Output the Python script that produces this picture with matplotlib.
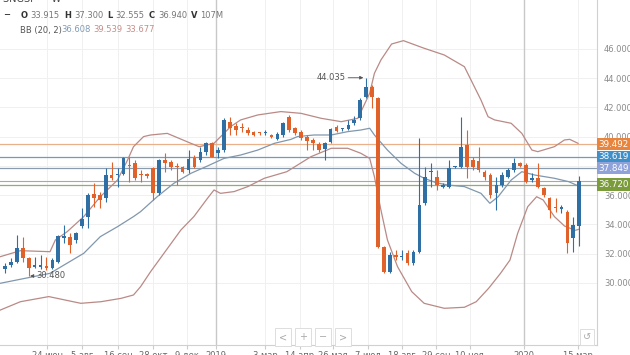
import numpy as np
import matplotlib
matplotlib.use("Agg")
import matplotlib.pyplot as plt
import matplotlib.transforms as mtransforms

# weekly candles, SNGSP
opens = [30.93, 31.23, 31.46, 32.37, 31.69, 31.07, 31.07, 31.19, 31.00, 31.46,
         33.05, 33.12, 32.94, 33.90, 34.49, 36.09, 36.02, 35.79, 37.38, 37.38,
         37.45, 38.02, 38.18, 37.40, 37.45, 37.84, 36.13, 38.41, 38.30, 37.97,
         37.95, 37.73, 38.52, 38.41, 38.98, 39.55, 38.87, 39.09, 41.03, 40.74,
         40.60, 40.46, 40.35, 40.25, 40.23, 40.12, 39.85, 40.12, 41.33, 40.58,
         40.35, 40.01, 39.78, 39.50, 39.14, 39.66, 40.64, 40.50, 40.51, 40.92,
         41.26, 42.74, 43.42, 42.63, 32.48, 30.78, 31.91, 31.78, 32.03, 31.34,
         32.14, 35.45, 37.60, 37.27, 36.59, 36.59, 37.93, 37.95, 39.44, 38.41,
         38.36, 37.61, 37.38, 36.13, 36.70, 37.27, 37.73, 38.18, 38.07, 37.04,
         37.16, 36.47, 35.79, 35.12, 35.04, 34.88, 33.05, 33.915]
highs = [31.34, 31.69, 33.28, 33.17, 31.80, 31.80, 31.91, 31.80, 31.69, 33.28,
         33.97, 33.40, 33.51, 35.11, 36.13, 36.81, 36.25, 37.84, 38.30, 37.84,
         38.64, 38.64, 38.41, 37.73, 37.50, 37.95, 38.45, 38.87, 38.41, 38.18,
         38.00, 39.09, 38.75, 39.32, 39.66, 39.66, 39.32, 41.26, 41.37, 40.92,
         40.92, 40.69, 40.40, 40.30, 40.46, 40.20, 40.30, 41.03, 41.49, 40.69,
         40.46, 40.12, 39.89, 39.66, 39.66, 40.58, 40.80, 40.60, 41.15, 41.42,
         42.63, 44.035, 43.54, 42.70, 32.50, 32.14, 32.26, 32.26, 32.26, 32.26,
         39.89, 37.95, 38.18, 37.73, 36.81, 38.41, 38.00, 41.37, 40.46, 38.64,
         39.32, 37.73, 37.50, 37.27, 37.61, 37.84, 38.52, 38.30, 38.18, 37.50,
         38.18, 36.59, 35.90, 35.79, 35.33, 34.99, 34.54, 37.30]
lows = [30.66, 31.12, 31.34, 31.46, 30.48, 31.00, 30.93, 30.89, 30.93, 31.39,
        32.71, 32.03, 32.71, 33.74, 33.74, 35.22, 35.11, 35.56, 37.04, 36.59,
        37.38, 36.93, 37.04, 36.93, 37.20, 35.68, 36.02, 37.61, 37.73, 36.70,
        37.50, 37.50, 37.84, 38.30, 38.75, 38.59, 38.52, 38.98, 40.12, 40.12,
        40.35, 40.12, 40.05, 40.15, 40.12, 39.90, 39.80, 40.01, 40.35, 40.12,
        39.78, 39.09, 39.09, 38.98, 38.41, 39.55, 40.35, 40.40, 40.46, 40.80,
        41.15, 42.63, 41.94, 32.40, 30.66, 30.66, 31.57, 31.57, 31.23, 31.23,
        32.03, 35.33, 36.59, 36.36, 36.47, 36.47, 37.85, 37.84, 37.16, 37.73,
        37.61, 37.04, 35.79, 34.99, 36.59, 37.20, 37.61, 37.95, 36.81, 36.93,
        36.47, 35.90, 34.42, 34.88, 34.76, 32.03, 32.14, 32.555]
closes = [31.16, 31.46, 32.37, 31.69, 31.00, 31.23, 31.23, 31.00, 31.57, 33.21,
          33.21, 32.60, 33.40, 34.35, 36.02, 35.79, 35.68, 37.38, 37.16, 37.40,
          38.52, 38.00, 37.16, 37.38, 37.32, 36.13, 38.41, 38.23, 37.95, 37.95,
          37.61, 38.46, 37.95, 38.98, 39.55, 38.64, 39.09, 41.15, 40.58, 40.46,
          40.58, 40.23, 40.12, 40.23, 40.25, 39.96, 40.19, 40.96, 40.46, 40.23,
          39.89, 39.73, 39.60, 39.09, 39.60, 40.51, 40.42, 40.52, 40.80, 41.15,
          42.51, 43.42, 42.70, 32.48, 30.78, 31.91, 31.75, 31.80, 31.34, 32.14,
          35.33, 37.23, 37.62, 36.70, 36.70, 37.84, 37.95, 39.32, 37.95, 37.95,
          37.73, 37.27, 36.02, 36.70, 37.38, 37.73, 38.18, 38.00, 36.93, 37.16,
          36.59, 36.02, 34.99, 35.10, 35.22, 32.71, 33.97, 36.94]

# Bollinger bands (bar index, price)
bb_up_x = [-0.8, 2.6, 7.6, 8.5, 10.5, 13.3, 16.1, 19.0, 20.7, 21.7, 23.4, 24.6, 27.4,
           31.4, 32.8, 35.3, 38.1, 39.8, 42.7, 46.6, 50.0, 53.4, 56.8, 59.6, 61.6,
           62.4, 63.5, 65.3, 67.3, 70.8, 74.2, 77.6, 80.4, 81.6, 82.7, 85.5, 87.3,
           89.0, 90.0, 92.8, 94.5, 95.4, 96.8]
bb_up = [31.80, 32.21, 32.14, 32.94, 33.51, 34.54, 35.90, 37.04, 38.41, 39.32, 40.01,
         40.12, 40.23, 39.55, 39.32, 39.55, 40.69, 41.15, 41.49, 41.72, 41.60, 41.26,
         41.03, 41.26, 42.97, 44.34, 45.25, 46.34, 46.57, 46.05, 45.59, 44.79, 42.51,
         41.37, 41.15, 40.92, 40.23, 39.09, 38.98, 39.32, 39.78, 39.82, 39.55]
bb_mid_x = [-0.8, 7.6, 13.3, 16.1, 19.0, 21.7, 22.9, 25.7, 28.5, 31.4, 34.2, 37.0,
            39.8, 42.7, 45.5, 48.3, 49.4, 52.2, 55.1, 57.9, 60.1, 61.6, 62.4, 64.6,
            66.9, 69.2, 70.8, 72.8, 74.8, 77.6, 80.4, 81.9, 83.3, 85.5, 87.3, 89.5,
            92.8, 95.2, 97.0]
bb_mid = [29.98, 30.66, 32.03, 33.17, 33.85, 34.54, 34.88, 35.90, 36.81, 37.50, 38.00,
          38.52, 38.75, 39.09, 39.55, 39.82, 40.01, 40.12, 40.12, 40.35, 40.46, 40.58,
          40.12, 39.09, 38.18, 37.50, 37.16, 36.86, 36.70, 36.59, 36.13, 35.45, 35.90,
          37.04, 37.61, 37.38, 37.16, 36.93, 36.61]
bb_lo_x = [-0.8, 2.6, 7.4, 12.8, 16.2, 19.6, 21.7, 22.9, 24.6, 29.7, 31.9, 34.2, 35.3,
           36.4, 38.7, 41.0, 43.8, 47.6, 51.7, 55.1, 57.9, 60.1, 61.6, 62.4, 63.5,
           64.6, 66.3, 68.7, 70.8, 74.2, 77.6, 79.6, 81.7, 83.7, 85.3, 86.6, 88.3,
           89.8, 90.9, 92.8, 94.5, 96.3, 97.0]
bb_lo = [28.15, 28.72, 29.07, 28.61, 28.72, 28.95, 29.18, 29.75, 30.78, 33.62, 34.54,
         35.79, 36.36, 36.13, 36.25, 36.59, 37.16, 37.61, 38.64, 39.21, 39.21, 38.87,
         38.52, 37.27, 34.99, 32.94, 31.12, 29.41, 28.61, 28.27, 28.34, 28.72, 29.64,
         30.66, 31.57, 33.40, 35.22, 35.90, 35.68, 34.54, 33.90, 33.60, 33.68]

levels = [39.492, 38.619, 37.849, 36.720]
level_colors = ["#e8843c", "#3f8fc9", "#8fa3da", "#7b9c3a"]
level_line_colors = ["#eab089", "#6f9cbd", "#8a9cb0", "#93ab77"]
last_price = 36.94

yticks = [30, 32, 34, 36, 38, 40, 42, 44, 46]
xtick_pos = [7.1, 13.0, 19.1, 25.0, 30.7, 35.6, 44.0, 49.8, 55.4, 61.3, 67.1, 72.8, 78.5, 87.7, 96.8]
xtick_lab = ["24 июн", "5 авг", "16 сен", "28 окт", "9 дек", "2019", "3 мар", "14 апр",
             "26 мая", "7 июл", "18 авг", "29 сен", "10 ноя", "2020", "15 мар"]
year_lines = [35.6, 87.7]

UP = "#2f6fa3"
DOWN = "#e0622a"

fig = plt.figure(figsize=(6.3, 3.55), dpi=100)
ax = fig.add_axes([0, 10 / 355, 597 / 630, 345 / 355])

o = np.array(opens); h = np.array(highs); l = np.array(lows); c = np.array(closes)
x = np.arange(len(o))
col = np.where(c >= o, UP, DOWN)

# grid
for yt in yticks:
    ax.axhline(yt, color="#f0f0f0", lw=0.7, zorder=0)
for xt in xtick_pos:
    ax.axvline(xt, color="#f0f0f0", lw=0.7, zorder=0)
for yl in year_lines:
    ax.axvline(yl, color="#c8c8c8", lw=1.0, zorder=0)

# level lines
for lv, lc in zip(levels, level_line_colors):
    ax.axhline(lv, color=lc, lw=0.9, zorder=1)
ax.axhline(last_price, color="#a8a8a8", lw=0.8, zorder=1)

# bollinger
ax.plot(bb_up_x, bb_up, color="#b98a86", lw=0.9, zorder=2)
ax.plot(bb_lo_x, bb_lo, color="#b98a86", lw=0.9, zorder=2)
ax.plot(bb_mid_x, bb_mid, color="#8197ad", lw=0.9, zorder=2)

# candles
ax.vlines(x, l, h, colors=col, lw=0.8, zorder=3)
body = np.maximum(np.abs(c - o), 0.08)
ax.bar(x, body, bottom=np.minimum(o, c), width=0.62, color=col, zorder=4, linewidth=0)

# hi/lo markers
ax.annotate("44.035", xy=(61, 44.035), xytext=(57.5, 44.035), fontsize=6, color="#555555",
            va="center", ha="right",
            arrowprops=dict(arrowstyle="-|>", color="#555555", lw=0.6, mutation_scale=5,
                            shrinkA=0, shrinkB=2))
ax.annotate("30.480", xy=(4, 30.48), xytext=(5.3, 30.48), fontsize=6, color="#555555",
            va="center", ha="left",
            arrowprops=dict(arrowstyle="-|>", color="#555555", lw=0.6, mutation_scale=5,
                            shrinkA=0, shrinkB=1))

ax.set_xlim(-0.85, 100.0)
ax.set_ylim(25.76, 49.35)

ax.yaxis.tick_right()
ax.set_yticks(yticks)
ax.set_yticklabels(["%.3f" % v for v in yticks])
ax.tick_params(axis="y", length=0, pad=5, labelsize=6, labelcolor="#8a8a8a")
ax.set_xticks(xtick_pos)
ax.set_xticklabels(xtick_lab)
ax.tick_params(axis="x", length=3, color="#cccccc", pad=1, labelsize=6, labelcolor="#666666")
for s in ["top", "left"]:
    ax.spines[s].set_visible(False)
ax.spines["right"].set_color("#d0d0d0")
ax.spines["bottom"].set_color("#d0d0d0")

# price labels on the right
trans = mtransforms.blended_transform_factory(ax.transAxes, ax.transData)
for lv, bc in zip(levels, level_colors):
    ax.text(1.003, lv, "%.3f" % lv, transform=trans, fontsize=6.3, color="white",
            va="center", ha="left", zorder=10, clip_on=False,
            bbox=dict(boxstyle="square,pad=0.2", fc=bc, ec="none"))

# header
fig.text(0.005, 1.003, "SNGSP  ·  W", fontsize=7, color="#444444", va="center", ha="left")
hdr_y = 1 - 15 / 355
parts = [(3, "−", "#333333", "bold"), (21, "O", "#333333", "bold"), (30, "33.915", "#777777", "normal"),
         (64, "H", "#333333", "bold"), (74, "37.300", "#777777", "normal"),
         (107, "L", "#333333", "bold"), (115, "32.555", "#777777", "normal"),
         (149, "C", "#333333", "bold"), (158, "36.940", "#777777", "normal"),
         (191, "V", "#333333", "bold"), (200, "107M", "#777777", "normal")]
for px, t, tc, fw in parts:
    fig.text(px / 630, hdr_y, t, fontsize=6, color=tc, weight=fw, va="center", ha="left")
bb_y = 1 - 30 / 355
fig.text(20 / 630, bb_y, "BB (20, 2)", fontsize=6, color="#555555", va="center", ha="left")
fig.text(61 / 630, bb_y, "36.608", fontsize=6, color="#7f9bb5", va="center", ha="left")
fig.text(93 / 630, bb_y, "39.539", fontsize=6, color="#c48d88", va="center", ha="left")
fig.text(125 / 630, bb_y, "33.677", fontsize=6, color="#c48d88", va="center", ha="left")

# navigation buttons
for px, t in [(283, "<"), (303, "+"), (323, "−"), (343, ">")]:
    fig.text(px / 630, 1 - 337 / 355, t, fontsize=7, color="#aaaaaa", ha="center", va="center",
             bbox=dict(boxstyle="square,pad=0.45", fc="white", ec="#dddddd", lw=0.7))
fig.text(587 / 630, 1 - 337 / 355, "↺", fontsize=7, color="#aaaaaa", ha="center", va="center",
         bbox=dict(boxstyle="square,pad=0.35", fc="white", ec="#dddddd", lw=0.7))

fig.savefig("out.png", dpi=100, facecolor="white")
